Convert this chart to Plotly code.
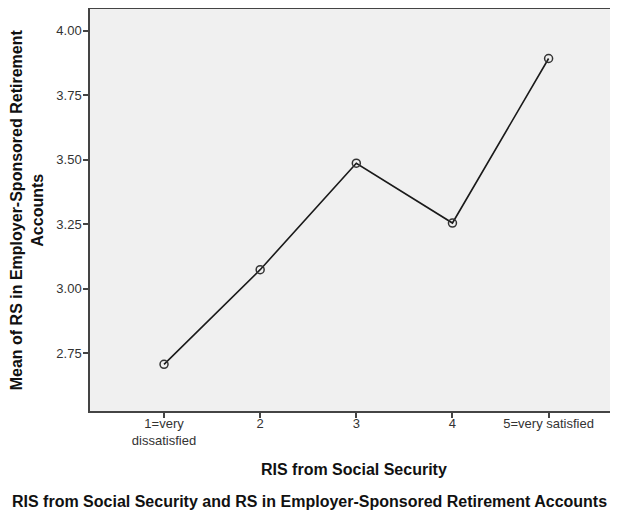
import plotly.graph_objects as go

categories = [1, 2, 3, 4, 5]
tick_labels = ["1=very<br>dissatisfied", "2", "3", "4", "5=very satisfied"]
means = [2.707, 3.074, 3.487, 3.255, 3.893]
y_ticks = [2.75, 3.00, 3.25, 3.50, 3.75, 4.00]

FONT = "Liberation Sans, Arial, sans-serif"
AX = "#444444"

fig = go.Figure()
fig.add_trace(go.Scatter(
    x=categories, y=means, mode="lines+markers",
    line=dict(color="#1a1a1a", width=1.6),
    marker=dict(symbol="circle-open", size=8, color="#333333", line=dict(width=1.5)),
    showlegend=False, hoverinfo="skip",
))

fig.update_layout(
    width=618, height=502,
    margin=dict(l=82, r=0, t=1, b=99),
    paper_bgcolor="white", plot_bgcolor="#f0f0f0",
    font=dict(family=FONT, color="#333333", size=12),
    xaxis=dict(
        range=[0.23, 5.805], tickmode="array", tickvals=categories, ticktext=tick_labels,
        ticks="outside", ticklen=5, tickwidth=1.5, tickcolor=AX,
        showline=True, linecolor=AX, linewidth=1.5, mirror=True,
        showgrid=False, zeroline=False, fixedrange=True,
        tickfont=dict(size=13, color="#333333"), ticklabelstandoff=-5,
    ),
    yaxis=dict(
        range=[2.526, 4.085], tickmode="array", tickvals=y_ticks,
        ticktext=[f"{v:.2f}" for v in y_ticks],
        ticks="outside", ticklen=5, tickwidth=1.5, tickcolor=AX,
        showline=True, linecolor=AX, linewidth=1.5, mirror=False,
        showgrid=False, zeroline=False, fixedrange=True,
        tickfont=dict(size=13, color="#333333"), ticklabelstandoff=-1,
    ),
)

fig.add_annotation(
    text="<b>Mean of RS in Employer-Sponsored Retirement<br>Accounts</b>",
    xref="paper", yref="paper", x=-0.117, y=0.5, textangle=-90,
    showarrow=False, xanchor="center", yanchor="middle",
    font=dict(size=16, color="#111111", family=FONT),
)
fig.add_annotation(
    text="<b>RIS from Social Security</b>",
    xref="paper", yref="paper", x=0.492, y=-0.145,
    showarrow=False, xanchor="center", yanchor="middle",
    font=dict(size=16, color="#111111", family=FONT),
)
fig.add_annotation(
    text="<b>RIS from Social Security and RS in Employer-Sponsored Retirement Accounts</b>",
    xref="paper", yref="paper", x=0.409, y=-0.226,
    showarrow=False, xanchor="center", yanchor="middle",
    font=dict(size=16, color="#111111", family=FONT),
)

fig.write_html("out.html", post_script="document.body.style.overflow='hidden';")
